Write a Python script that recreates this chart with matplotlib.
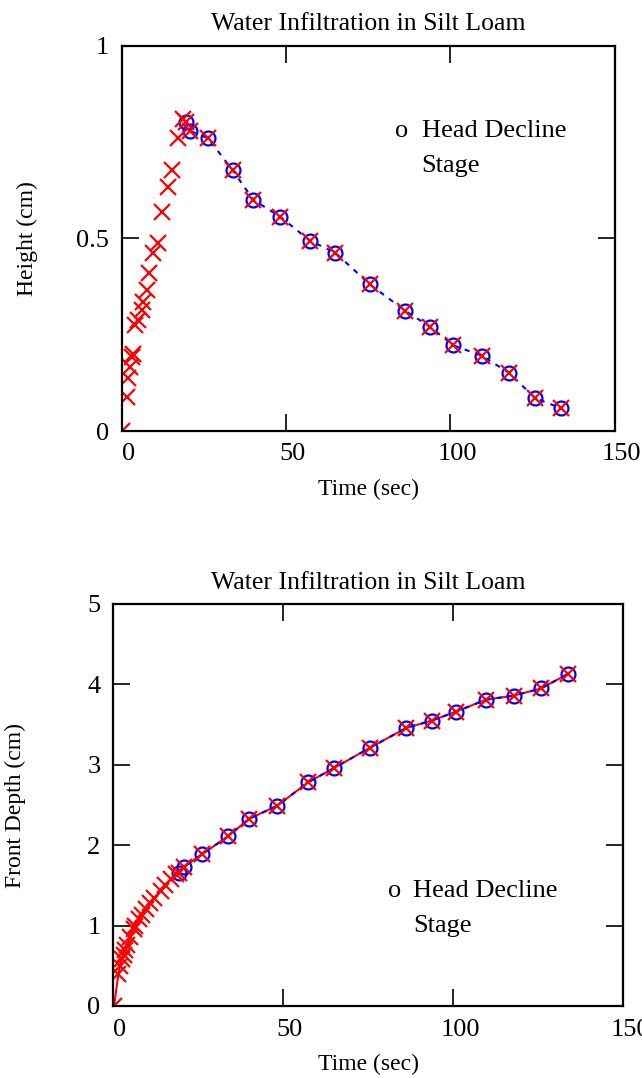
import matplotlib
matplotlib.use('Agg')
import matplotlib.pyplot as plt
import matplotlib.transforms as mtransforms

plt.rcParams['font.family'] = ['Liberation Serif', 'DejaVu Serif']

# ---- data ----
t_rise = [0.3, 1.6, 2.1, 2.6, 3.1, 3.6, 4.1, 5.1, 6.1, 6.6, 7.7, 8.4, 9.7, 11.0, 12.2, 14.0, 15.3, 17.1, 18.6]
h_rise = [0.0, 0.089, 0.137, 0.167, 0.193, 0.20, 0.275, 0.288, 0.314, 0.336, 0.366, 0.409, 0.461, 0.489, 0.569, 0.634, 0.677, 0.760, 0.811]
d_rise = [0.0, 0.40, 0.50, 0.58, 0.64, 0.70, 0.76, 0.86, 0.96, 1.00, 1.08, 1.13, 1.21, 1.28, 1.34, 1.43, 1.50, 1.58, 1.64]

t_decline = [19.5, 20.8, 26.3, 33.8, 40.1, 48.3, 57.3, 65.0, 75.5, 86.3, 93.8, 100.8, 109.7, 117.9, 125.9, 133.8]
h_decline = [0.803, 0.779, 0.760, 0.677, 0.600, 0.556, 0.494, 0.463, 0.381, 0.312, 0.271, 0.223, 0.195, 0.151, 0.085, 0.059]
d_decline = [1.65, 1.73, 1.89, 2.11, 2.33, 2.49, 2.78, 2.96, 3.21, 3.46, 3.55, 3.66, 3.81, 3.86, 3.95, 4.13]

title_text = 'Water Infiltration in Silt Loam'
xlabel_text = 'Time (sec)'
ylabel_top = 'Height (cm)'
ylabel_bottom = 'Front Depth (cm)'
note_mark = 'o'
note_line1 = 'Head Decline'
note_line2 = 'Stage'

fig = plt.figure(figsize=(6.42, 10.78), dpi=100)

ax1 = fig.add_axes([121.5 / 642, 1 - 431 / 1078, 493 / 642, 385.3 / 1078])
ax2 = fig.add_axes([113 / 642, 1 - 1006 / 1078, 510 / 642, 402 / 1078])

t_all = t_rise + t_decline
h_all = h_rise + h_decline
d_all = d_rise + d_decline

# top
ax1.plot(t_decline, h_decline, linestyle=(0, (2.5, 3)), color='blue', lw=1.5,
         marker='o', ms=10, mfc='none', mec='blue', mew=1.6)
ax1.plot(t_all, h_all, linestyle='none', marker='x', ms=11, color='red', mew=1.6)

# bottom
ax2.plot(t_all, d_all, '-', color='red', lw=1.5)
ax2.plot(t_decline, d_decline, linestyle=(0, (2.5, 3)), color='blue', lw=1.5,
         marker='o', ms=10, mfc='none', mec='blue', mew=1.6)
ax2.plot(t_all, d_all, linestyle='none', marker='x', ms=11, color='red', mew=1.6)

offset = mtransforms.ScaledTranslation(7 / 100, 0, fig.dpi_scale_trans)

for ax, ylim, yticks, ylabels, ylab in [
        (ax1, (0, 1), [0, 0.5, 1], ['0', '0.5', '1'], ylabel_top),
        (ax2, (0, 5), [0, 1, 2, 3, 4, 5], ['0', '1', '2', '3', '4', '5'], ylabel_bottom)]:
    ax.set_xlim(0, 150)
    ax.set_ylim(*ylim)
    ax.set_xticks([0, 50, 100, 150])
    ax.set_xticklabels(['0', '50', '100', '150'])
    ax.set_yticks(yticks)
    ax.set_yticklabels(ylabels)
    ax.tick_params(direction='in', length=12, width=1.2, top=True, right=True,
                   labelsize=19, pad=9, colors='black')
    for sp in ax.spines.values():
        sp.set_linewidth(1.6)
    ax.set_title(title_text, fontsize=18.5, pad=11)
    ax.set_xlabel(xlabel_text, fontsize=17)
    ax.set_ylabel(ylab, fontsize=17, va='center')
    for lbl in ax.get_xticklabels():
        lbl.set_transform(lbl.get_transform() + offset)

ax1.xaxis.set_label_coords(0.5, -0.125)
ax1.yaxis.set_label_coords(-0.19, 0.5)
ax2.xaxis.set_label_coords(0.5, -0.12)
ax2.yaxis.set_label_coords(-0.192, 0.5)

# annotations
ax1.text(83.2, 0.763, note_mark, fontsize=19, va='baseline')
ax1.text(91.3, 0.763, note_line1, fontsize=19, va='baseline')
ax1.text(91.3, 0.673, note_line2, fontsize=19, va='baseline')

ax2.text(81.0, 1.352, note_mark, fontsize=19, va='baseline')
ax2.text(88.3, 1.352, note_line1, fontsize=19, va='baseline')
ax2.text(88.3, 0.924, note_line2, fontsize=19, va='baseline')

fig.savefig('out.png', dpi=100)
